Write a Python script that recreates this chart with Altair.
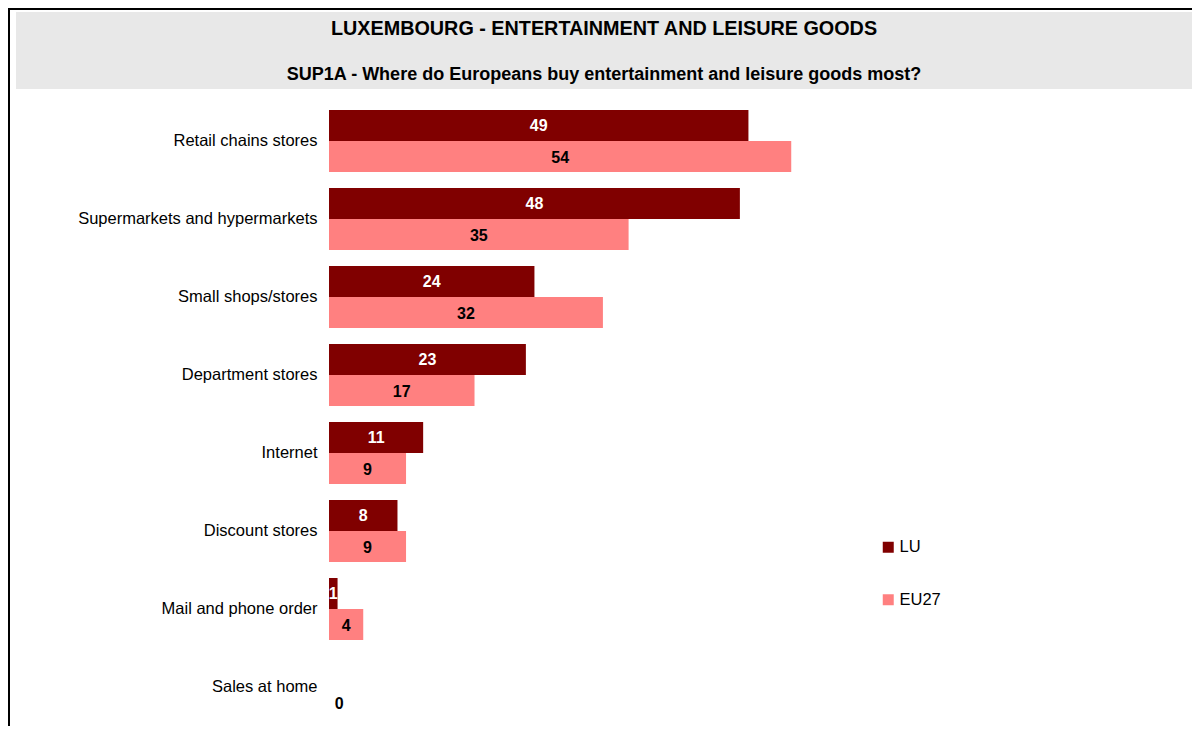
import altair as alt
import pandas as pd

categories = ["Retail chains stores", "Supermarkets and hypermarkets", "Small shops/stores",
              "Department stores", "Internet", "Discount stores", "Mail and phone order",
              "Sales at home"]
lu_values = [49, 48, 24, 23, 11, 8, 1, 0]
eu27_values = [54, 35, 32, 17, 9, 9, 4, 0]
series_names = ["LU", "EU27"]
series_colors = ["#800000", "#FF8080"]

title_text = "LUXEMBOURG - ENTERTAINMENT AND LEISURE GOODS"
subtitle_text = "SUP1A - Where do Europeans buy entertainment and leisure goods most?"

rows = []
for c, a, b in zip(categories, lu_values, eu27_values):
    rows.append({"category": c, "series": "LU", "value": a})
    rows.append({"category": c, "series": "EU27", "value": b})
df = pd.DataFrame(rows)

FONT = "Liberation Sans"

base = alt.Chart(df).encode(
    y=alt.Y("category:N", sort=categories, title=None,
            scale=alt.Scale(paddingInner=0.205, paddingOuter=0.1025),
            axis=alt.Axis(domain=False, ticks=False, labelFontSize=16.5, labelPadding=12,
                          labelColor="#000000", labelFont=FONT, labelLimit=400)),
    yOffset=alt.YOffset("series:N", sort=series_names,
                        scale=alt.Scale(domain=series_names, paddingInner=0, paddingOuter=0)),
)

bars = base.mark_bar().encode(
    x=alt.X("value:Q", scale=alt.Scale(domain=[0, 100]), axis=None),
    color=alt.Color("series:N", sort=series_names,
                    scale=alt.Scale(domain=series_names, range=series_colors),
                    legend=alt.Legend(title=None, orient="none", legendX=551, legendY=437,
                                      symbolType="square", symbolSize=121, symbolStrokeWidth=0,
                                      labelFontSize=16.5, labelFont=FONT, labelColor="#000000",
                                      labelOffset=3, rowPadding=35.5)),
)

labels = base.transform_calculate(
    pos="datum.value == 0 ? 1.2 : datum.value / 2"
).mark_text(font=FONT, fontSize=16, fontWeight="bold", align="center", baseline="middle",
            dy=1).encode(
    x=alt.X("pos:Q"),
    text=alt.Text("value:Q"),
    color=alt.when(alt.datum.series == "LU").then(alt.value("#ffffff")).otherwise(alt.value("#000000")),
)

one = alt.Data(values=[{}])

header = alt.Chart(one).mark_rect(color="#e8e8e8").encode(
    x=alt.value(-313), x2=alt.value(863), y=alt.value(-90), y2=alt.value(-13)
)
title_mark = alt.Chart(one).mark_text(
    text=title_text, font=FONT, fontSize=19.8, fontWeight="bold", align="center",
    baseline="middle", color="#000000"
).encode(x=alt.value(275), y=alt.value(-73))
subtitle_mark = alt.Chart(one).mark_text(
    text=subtitle_text, font=FONT, fontSize=18, fontWeight="bold", align="center",
    baseline="middle", color="#000000"
).encode(x=alt.value(275), y=alt.value(-27))

top_border = alt.Chart(one).mark_rule(color="#000000", strokeWidth=2).encode(
    x=alt.value(-321), x2=alt.value(880), y=alt.value(-93), y2=alt.value(-93)
)
left_border = alt.Chart(one).mark_rule(color="#000000", strokeWidth=2).encode(
    x=alt.value(-320), x2=alt.value(-320), y=alt.value(-94), y2=alt.value(640)
)

chart = alt.layer(header, top_border, left_border, title_mark, subtitle_mark, bars, labels).properties(
    width=856, height=624,
    autosize=alt.AutoSizeParams(type="none"),
    padding={"left": 321, "top": 94, "right": 7, "bottom": 0},
).configure_view(stroke=None)

chart.save("out.html", embed_options={"renderer": "svg", "actions": False})
